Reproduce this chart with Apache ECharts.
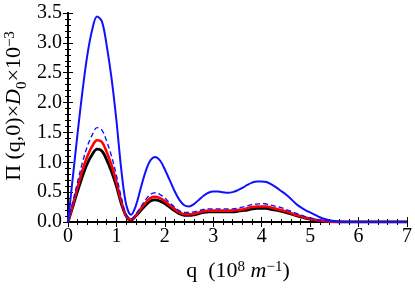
<!DOCTYPE html>
<html><head><meta charset="utf-8">
<script src="https://cdn.jsdelivr.net/npm/echarts@6/dist/echarts.min.js"></script>
<style>html,body{margin:0;padding:0;background:#fff}#c{width:415px;height:290px}</style>
</head><body><div id="c"></div>
<script>
var q = [0,0.1,0.2,0.3,0.4,0.5,0.6,0.7,0.8,0.9,1.0,1.1,1.2,1.3,1.4,1.5,1.6,1.7,1.8,1.9,2.0,2.1,2.2,2.3,2.4,2.5,2.6,2.7,2.8,2.9,3.0,3.1,3.2,3.3,3.4,3.5,3.6,3.7,3.8,3.9,4.0,4.1,4.2,4.3,4.4,4.5,4.6,4.7,4.8,4.9,5.0,5.1,5.2,5.3,5.4,5.5,5.6,5.7,5.8,5.9,6.0,6.5,7.0];
var blueSolid = [0,0.75,1.5,2.2,2.8,3.22,3.44,3.36,2.95,2.4,1.7,0.88,0.3,0.12,0.27,0.56,0.84,1.03,1.09,1.03,0.88,0.7,0.52,0.37,0.28,0.26,0.3,0.37,0.44,0.49,0.51,0.51,0.5,0.49,0.5,0.53,0.57,0.62,0.66,0.68,0.68,0.67,0.63,0.58,0.52,0.46,0.39,0.31,0.25,0.2,0.16,0.12,0.08,0.05,0.03,0.015,0.006,0.002,0,0,0,0,0];
var blueDashed = [0,0.34,0.68,1.0,1.27,1.46,1.58,1.54,1.35,1.1,0.78,0.41,0.13,0.05,0.13,0.25,0.37,0.46,0.49,0.46,0.4,0.32,0.25,0.19,0.16,0.16,0.17,0.19,0.21,0.22,0.22,0.22,0.22,0.22,0.22,0.23,0.25,0.27,0.29,0.3,0.31,0.3,0.28,0.26,0.24,0.21,0.18,0.15,0.12,0.09,0.07,0.05,0.03,0.018,0.009,0.004,0.001,0,0,0,0,0,0];
var red = [0,0.29,0.59,0.87,1.1,1.27,1.37,1.34,1.17,0.95,0.67,0.35,0.11,0.04,0.11,0.22,0.32,0.4,0.42,0.4,0.35,0.28,0.22,0.16,0.13,0.13,0.14,0.16,0.18,0.19,0.19,0.19,0.19,0.19,0.19,0.2,0.21,0.23,0.25,0.26,0.26,0.26,0.24,0.22,0.2,0.18,0.15,0.12,0.1,0.075,0.055,0.038,0.024,0.014,0.007,0.003,0.001,0,0,0,0,0,0];
var black = [0,0.26,0.52,0.77,0.98,1.13,1.22,1.19,1.04,0.84,0.6,0.31,0.1,0.03,0.1,0.19,0.28,0.35,0.37,0.35,0.31,0.25,0.19,0.14,0.11,0.11,0.12,0.14,0.16,0.17,0.17,0.17,0.17,0.17,0.17,0.18,0.19,0.2,0.22,0.23,0.23,0.23,0.21,0.2,0.18,0.16,0.135,0.11,0.085,0.065,0.048,0.033,0.02,0.012,0.006,0.002,0,0,0,0,0,0,0];

function pairs(ys){ return q.map(function(x,i){ return [x, ys[i]]; }); }
var FONT = 'Liberation Serif';
var chart = echarts.init(document.getElementById('c'), null, {renderer:'canvas'});
var axLine = {show:true, lineStyle:{color:'#000', width:2}};
function xa(pos, labels){
  return {type:'value', position:pos, min:0, max:7, interval:1,
    axisLine:axLine, axisTick:{show:true, inside:true, length:5, lineStyle:{color:'#000',width:1}},
    minorTick:{show:true, splitNumber:5, length:3, lineStyle:{color:'#000',width:1}},
    splitLine:{show:false},
    axisLabel:{show:labels, fontFamily:FONT, fontSize:20, color:'#000', margin:5}};
}
function ya(pos, labels){
  return {type:'value', position:pos, min:0, max:3.5, interval:0.5,
    axisLine:axLine, axisTick:{show:true, inside:true, length:5, lineStyle:{color:'#000',width:1}},
    minorTick:{show:true, splitNumber:5, length:3, lineStyle:{color:'#000',width:1}},
    splitLine:{show:false},
    axisLabel:{show:labels, fontFamily:FONT, fontSize:20, color:'#000', margin:6,
      formatter:function(v){return v.toFixed(1);}}};
}
function ser(name, ys, color, width, type, xi){
  return {name:name, type:'line', data:pairs(ys), showSymbol:false, smooth:0.35,
    lineStyle:{color:color, width:width, type:type}, z:xi, animation:false};
}
chart.setOption({
  animation:false,
  grid:{left:68, right:6, top:13, bottom:68},
  xAxis:[xa('bottom', true), xa('top', false)],
  yAxis:[ya('left', true), ya('right', false)],
  series:[
    ser('black', black, '#000000', 2.8, 'solid', 2),
    ser('red', red, '#ff0000', 2.6, 'solid', 3),
    ser('blueDashed', blueDashed, '#1010ff', 1.4, [5,3], 4),
    ser('blueSolid', blueSolid, '#1010ff', 2, 'solid', 5)
  ],
  graphic:[
    {type:'text', x:238, y:271, style:{
      text:'{n|q  (10}{sup|8}{n| }{it|m}{sup|−1}{n|)}',
      align:'center', verticalAlign:'middle',
      rich:{n:{fontFamily:FONT, fontSize:22, fill:'#000', verticalAlign:'bottom'},
            it:{fontFamily:FONT, fontSize:22, fontStyle:'italic', fill:'#000', verticalAlign:'bottom'},
            sup:{fontFamily:FONT, fontSize:15, fill:'#000', verticalAlign:'top'}}}},
    {type:'text', x:14, y:106, rotation:Math.PI/2, style:{
      text:'{n|Π (q,0)×}{it|D}{sub|0}{n|×10}{sup|−3}',
      align:'center', verticalAlign:'middle',
      rich:{n:{fontFamily:FONT, fontSize:22, fill:'#000', verticalAlign:'bottom'},
            it:{fontFamily:FONT, fontSize:22, fontStyle:'italic', fill:'#000', verticalAlign:'bottom'},
            sub:{fontFamily:FONT, fontSize:15, fill:'#000', verticalAlign:'bottom', padding:[0,0,-5,0]},
            sup:{fontFamily:FONT, fontSize:15, fill:'#000', verticalAlign:'top'}}}}
  ]
});
</script></body></html>
